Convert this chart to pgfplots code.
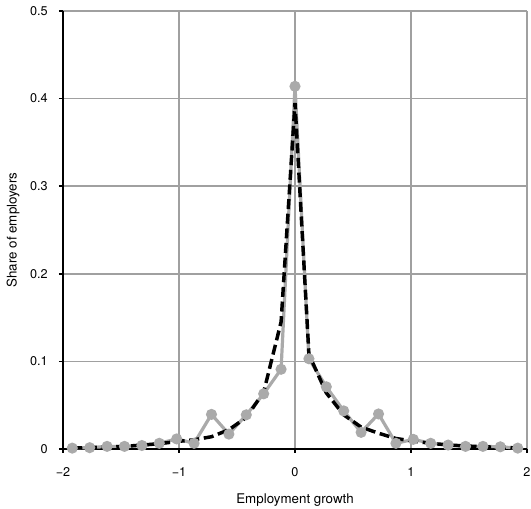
\documentclass[border=0pt]{standalone}
\usepackage{pgfplots}
\pgfplotsset{compat=1.18}
\usepackage{fontspec}
\setmainfont{TeX Gyre Heros}
\definecolor{ptgray}{RGB}{170,170,170}
\definecolor{gridgray}{RGB}{160,160,160}
\begin{document}
\begin{tikzpicture}
\begin{axis}[
  scale only axis,
  width=348pt, height=328.5pt,
  xmin=-2, xmax=2, ymin=0, ymax=0.5,
  axis lines=left,
  axis line style={-, black, line width=1.2pt},
  xtick={-2,-1,0,1,2},
  xticklabels={−2,−1,0,1,2},
  ytick={0,0.1,0.2,0.3,0.4,0.5},
  yticklabels={0,0.1,0.2,0.3,0.4,0.5},
  tick align=outside,
  major tick length=3pt,
  tick style={black, line width=1.2pt},
  grid=major,
  major grid style={gridgray, line width=1.1pt},
  ticklabel style={font=\fontsize{9.5}{11}\selectfont},
  label style={font=\fontsize{10}{12}\selectfont},
  xticklabel style={yshift=-7pt},
  yticklabel style={xshift=-5pt},
  xlabel={Employment growth},
  ylabel={Share of employers},
  xlabel style={yshift=-6pt},
  ylabel style={yshift=1pt},
  clip=false,
]
\addplot[ptgray, line width=2.4pt, mark=*, mark size=2.9pt, mark options={ptgray, solid}] coordinates {
(-1.92,0.001) (-1.77,0.0015) (-1.62,0.003) (-1.47,0.003) (-1.32,0.004)
(-1.17,0.0065) (-1.02,0.0115) (-0.87,0.0065) (-0.72,0.0395) (-0.57,0.017)
(-0.42,0.039) (-0.27,0.063) (-0.12,0.091) (0,0.414) (0.12,0.103)
(0.27,0.071) (0.42,0.0435) (0.57,0.019) (0.72,0.040) (0.87,0.0065)
(1.02,0.011) (1.17,0.0065) (1.32,0.0045) (1.47,0.003) (1.62,0.003)
(1.77,0.0025) (1.92,0.001)
};
\addplot[black, line width=2.6pt, dash pattern=on 7.5pt off 3.5pt, no markers] coordinates {
(-1.92,0.001) (-1.77,0.0015) (-1.62,0.0025) (-1.47,0.003) (-1.32,0.0045)
(-1.17,0.006) (-1.02,0.0085) (-0.87,0.0105) (-0.72,0.014) (-0.57,0.022)
(-0.42,0.036) (-0.27,0.065) (-0.12,0.145) (0,0.395) (0.12,0.108)
(0.27,0.064) (0.42,0.039) (0.57,0.025) (0.72,0.018) (0.87,0.012)
(1.02,0.009) (1.17,0.0065) (1.32,0.0046) (1.47,0.0035) (1.62,0.0025)
(1.77,0.002) (1.92,0.0012)
};
\end{axis}
\pgfresetboundingbox
\useasboundingbox (-47.25pt,-45pt) rectangle (351pt,336.75pt);
\end{tikzpicture}
\end{document}
